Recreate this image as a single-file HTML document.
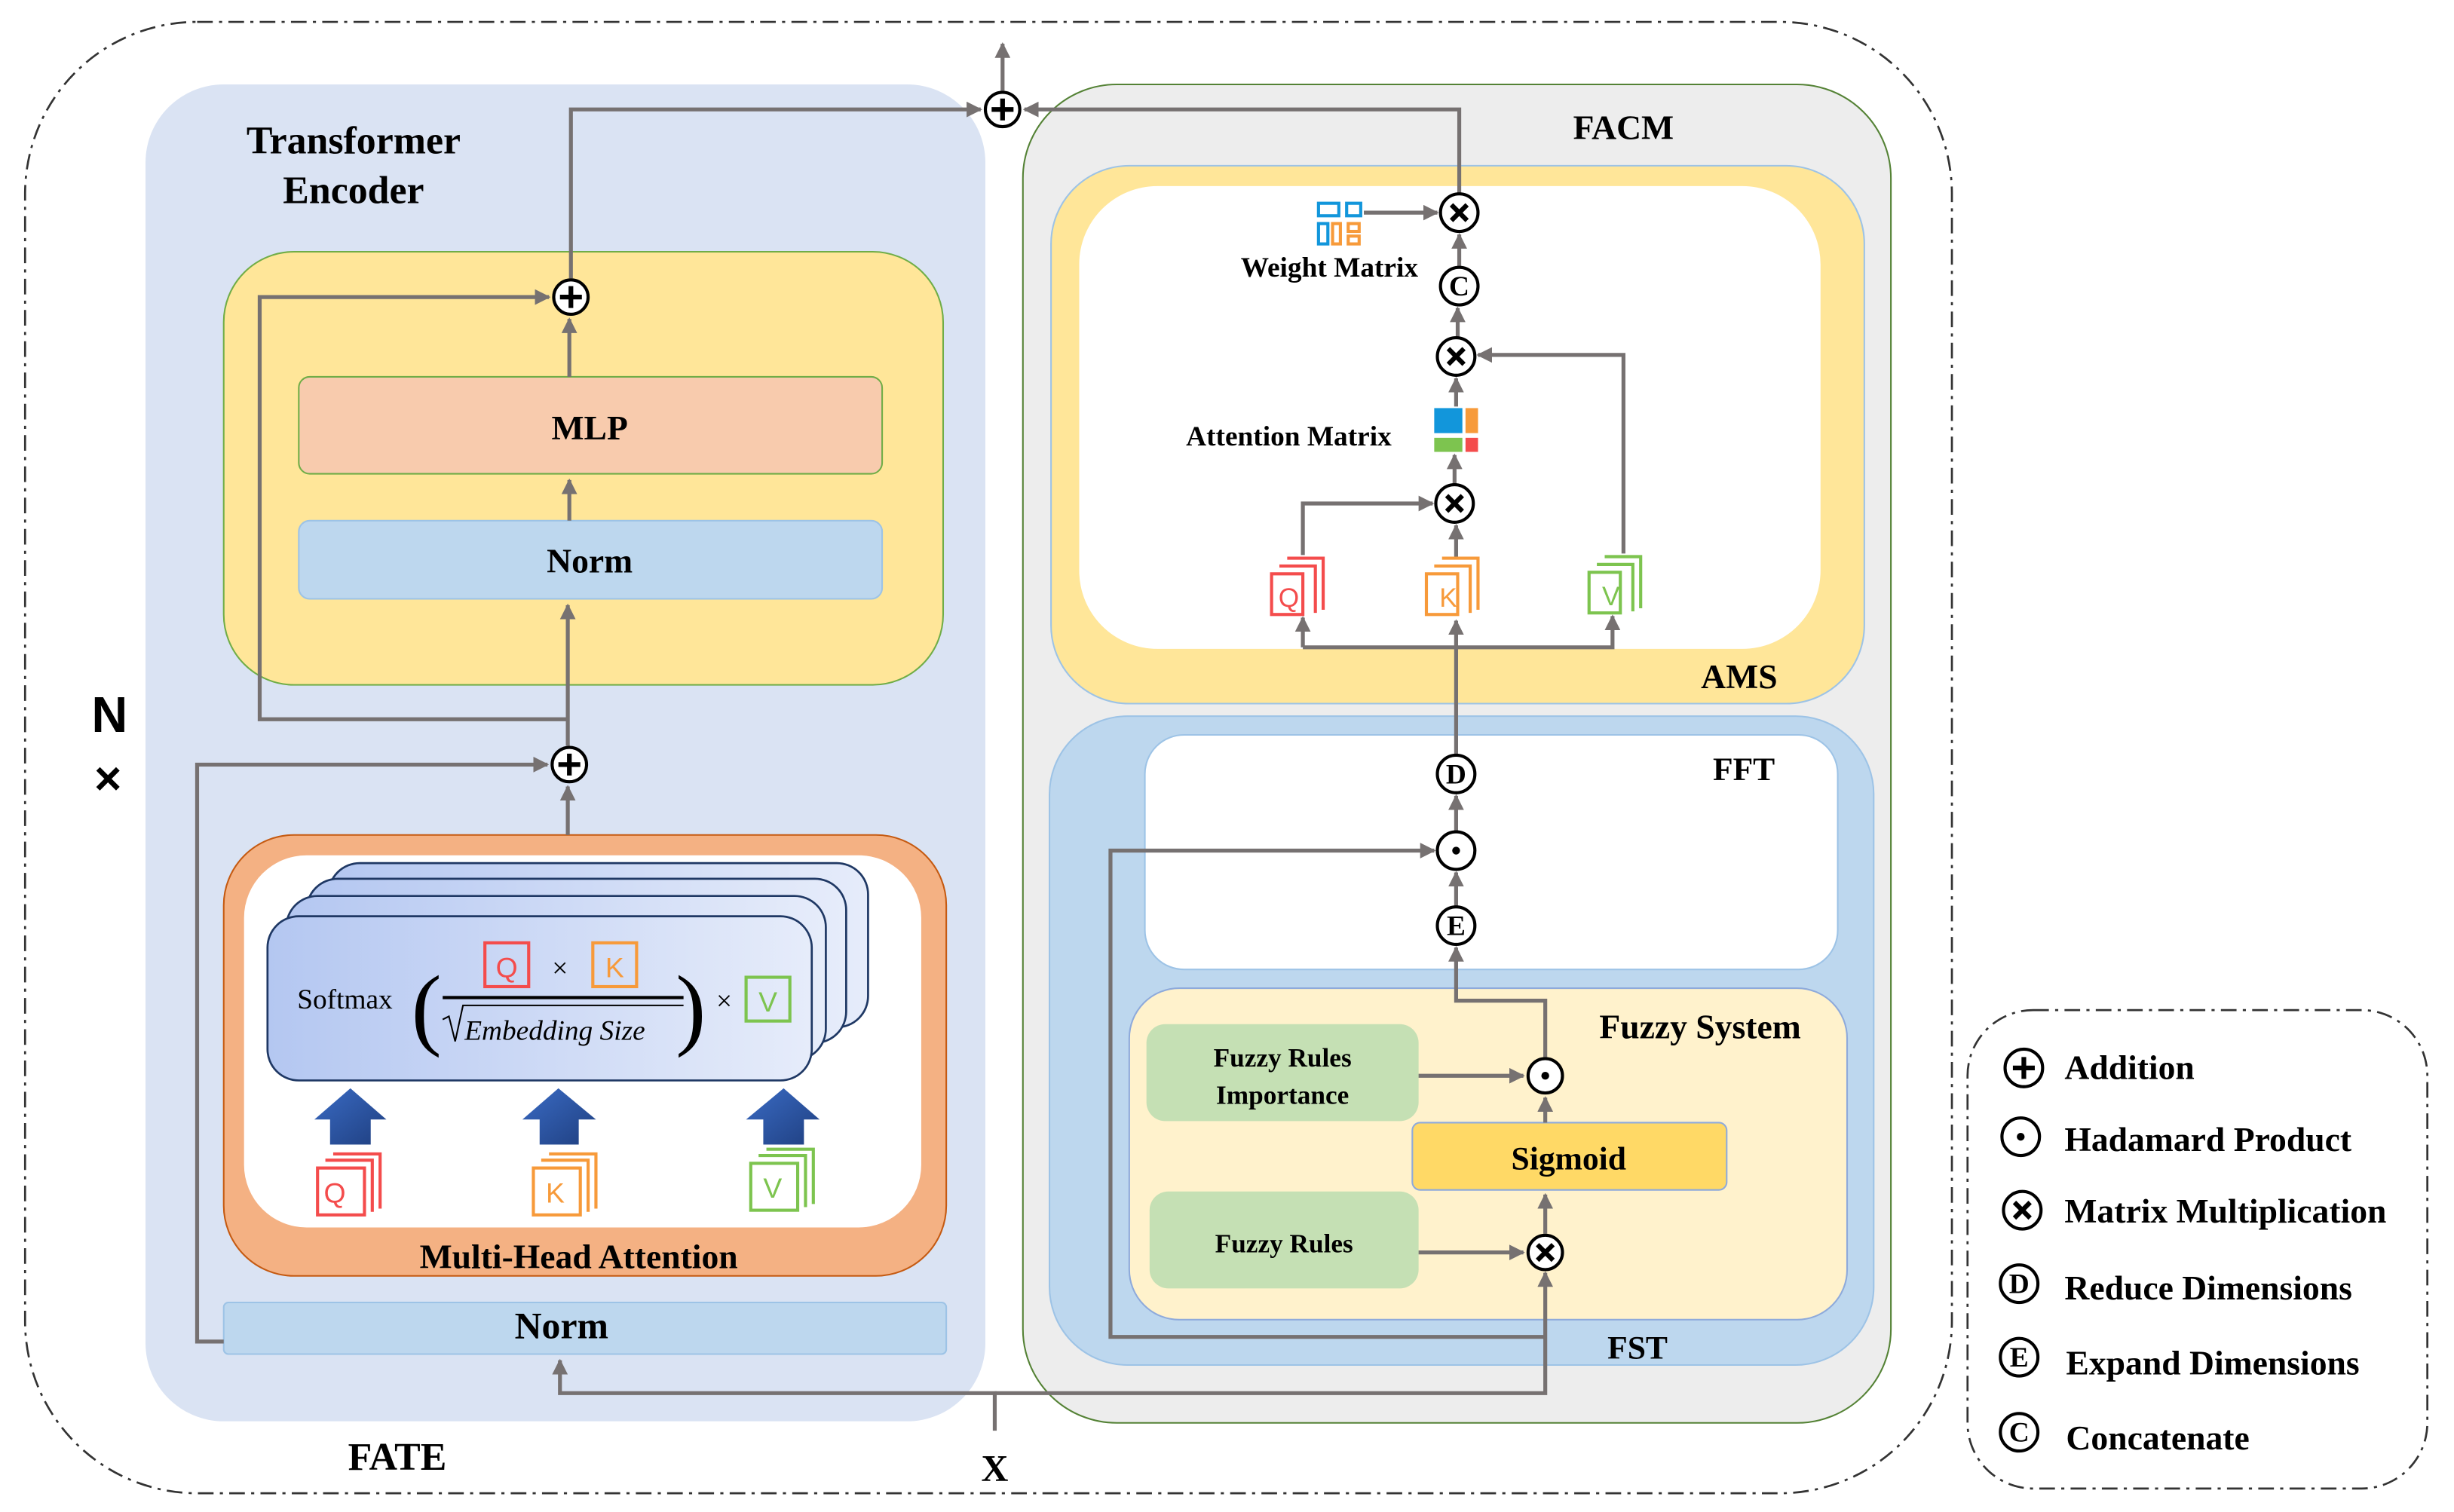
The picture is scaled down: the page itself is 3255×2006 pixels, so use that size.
<!DOCTYPE html>
<html><head><meta charset="utf-8"><style>
html,body{margin:0;padding:0;background:#fff}
svg{display:block}
text{font-family:"Liberation Serif",serif;font-weight:bold;fill:#000}
</style></head><body>
<svg width="3255" height="2006" viewBox="0 0 1569 967" xmlns="http://www.w3.org/2000/svg">
<defs>
<marker id="a" viewBox="0 0 10 10" refX="9" refY="5" markerWidth="4" markerHeight="4" orient="auto" markerUnits="strokeWidth"><path d="M0,0L10,5L0,10z" fill="#767171"/></marker>
<linearGradient id="card" x1="0" x2="1"><stop offset="0" stop-color="#b4c7f1"/><stop offset="1" stop-color="#e6ecfa"/></linearGradient>
<linearGradient id="barr" x1="0" x2="1" y1="0" y2="1"><stop offset="0" stop-color="#3a6bc4"/><stop offset="1" stop-color="#1f3f80"/></linearGradient>
</defs>
<rect x="16" y="14" width="1232" height="941" rx="110" fill="none" stroke="#333" stroke-width="1.3" stroke-dasharray="10,4,2,4"/>
<rect x="1258" y="646" width="294" height="306" rx="42" fill="none" stroke="#333" stroke-width="1.3" stroke-dasharray="10,4,2,4"/>

<rect x="93" y="54" width="537" height="855" rx="50" fill="#dae3f3"/>
<text x="226" y="98" font-size="25" text-anchor="middle">Transformer</text>
<text x="226" y="130" font-size="25" text-anchor="middle">Encoder</text>
<rect x="143" y="161" width="460" height="277" rx="45" fill="#ffe699" stroke="#70ad47" stroke-width="1"/>
<rect x="191" y="241" width="373" height="62" rx="7" fill="#f8cbad" stroke="#70ad47" stroke-width="1"/>
<text x="377" y="281" font-size="22" text-anchor="middle">MLP</text>
<rect x="191" y="333" width="373" height="50" rx="7" fill="#bdd7ee" stroke="#9dc3e6" stroke-width="1"/>
<text x="377" y="366" font-size="22" text-anchor="middle">Norm</text>

<rect x="143" y="534" width="462" height="282" rx="45" fill="#f4b183" stroke="#c55a11" stroke-width="1"/>
<rect x="156" y="547" width="433" height="238" rx="40" fill="#fff"/>
<text x="370" y="811" font-size="22" text-anchor="middle">Multi-Head Attention</text>
<g stroke="#1f3864" stroke-width="1.3">
<rect x="210" y="552" width="345" height="105" rx="20" fill="url(#card)"/>
<rect x="196" y="562" width="345" height="105" rx="20" fill="url(#card)"/>
<rect x="183" y="573" width="345" height="105" rx="20" fill="url(#card)"/>
<rect x="171" y="586" width="348" height="105" rx="20" fill="url(#card)"/>
</g>
<text x="190" y="645" font-size="18" style="font-weight:normal">Softmax</text>
<text x="263" y="664" font-size="58" style="font-weight:normal">(</text>
<text x="432" y="664" font-size="58" style="font-weight:normal">)</text>
<rect x="310" y="603" width="28" height="28" fill="none" stroke="#f44c4c" stroke-width="2"/>
<text x="324" y="625" font-size="18" text-anchor="middle" style="font-family:'Liberation Sans',sans-serif;font-weight:normal;fill:#f44c4c">Q</text>
<text x="358" y="625" font-size="18" text-anchor="middle" style="font-weight:normal">×</text>
<rect x="379" y="603" width="28" height="28" fill="none" stroke="#f79a3a" stroke-width="2"/>
<text x="393" y="625" font-size="18" text-anchor="middle" style="font-family:'Liberation Sans',sans-serif;font-weight:normal;fill:#f79a3a">K</text>
<line x1="283" y1="638" x2="437" y2="638" stroke="#000" stroke-width="2"/>
<path d="M283,652 L287,650 L291,666 L296,643 L437,643" fill="none" stroke="#000" stroke-width="1"/>
<text x="297" y="665" font-size="18" style="font-weight:normal;font-style:italic">Embedding Size</text>
<text x="463" y="646" font-size="18" text-anchor="middle" style="font-weight:normal">×</text>
<rect x="477" y="625" width="28" height="28" fill="none" stroke="#7dc44f" stroke-width="2"/>
<text x="491" y="647" font-size="18" text-anchor="middle" style="font-family:'Liberation Sans',sans-serif;font-weight:normal;fill:#7dc44f">V</text>
<g fill="url(#barr)">
<path d="M224,696 L247,716 L237,716 L237,732 L211,732 L211,716 L201,716z"/>
<path d="M357,696 L381,716 L370,716 L370,732 L345,732 L345,716 L334,716z"/>
<path d="M501,696 L524,716 L514,716 L514,732 L488,732 L488,716 L477,716z"/>
</g>
<g fill="none" stroke-width="2">
<g stroke="#f44c4c"><path d="M213,738h30v35"/><path d="M208,742h30v33"/><rect x="203" y="747" width="30" height="30" fill="#fff"/></g>
<g stroke="#f79a3a"><path d="M351,738h30v35"/><path d="M346,742h30v33"/><rect x="341" y="747" width="30" height="30" fill="#fff"/></g>
<g stroke="#7dc44f"><path d="M490,735h30v35"/><path d="M485,739h30v33"/><rect x="480" y="744" width="30" height="30" fill="#fff"/></g>
</g>
<text x="214" y="769" font-size="18" text-anchor="middle" style="font-family:'Liberation Sans',sans-serif;font-weight:normal;fill:#f44c4c">Q</text>
<text x="355" y="769" font-size="18" text-anchor="middle" style="font-family:'Liberation Sans',sans-serif;font-weight:normal;fill:#f79a3a">K</text>
<text x="494" y="766" font-size="18" text-anchor="middle" style="font-family:'Liberation Sans',sans-serif;font-weight:normal;fill:#7dc44f">V</text>

<rect x="143" y="833" width="462" height="33" rx="3" fill="#bdd7ee" stroke="#9dc3e6" stroke-width="1"/>
<text x="359" y="856" font-size="24" text-anchor="middle">Norm</text>
<text x="254" y="940" font-size="25" text-anchor="middle">FATE</text>
<text x="70" y="468" font-size="32" text-anchor="middle" style="font-family:'Liberation Sans',sans-serif">N</text>
<text x="69" y="508" font-size="30" text-anchor="middle" style="font-family:'Liberation Sans',sans-serif">×</text>

<rect x="654" y="54" width="555" height="856" rx="60" fill="#ededed" stroke="#548235" stroke-width="1"/>
<text x="1038" y="89" font-size="22" text-anchor="middle">FACM</text>
<rect x="672" y="106" width="520" height="344" rx="50" fill="#ffe699" stroke="#9dc3e6" stroke-width="1"/>
<rect x="690" y="119" width="474" height="296" rx="50" fill="#fff"/>
<text x="1112" y="440" font-size="22" text-anchor="middle">AMS</text>
<rect x="671" y="458" width="527" height="415" rx="50" fill="#bdd7ee" stroke="#9dc3e6" stroke-width="1"/>
<rect x="732" y="470" width="443" height="150" rx="25" fill="#fff" stroke="#9dc3e6" stroke-width="1"/>
<text x="1115" y="499" font-size="21" text-anchor="middle">FFT</text>
<rect x="722" y="632" width="459" height="212" rx="32" fill="#fff2cc" stroke="#8eaadb" stroke-width="1"/>
<text x="1087" y="664" font-size="22" text-anchor="middle">Fuzzy System</text>
<text x="1047" y="869" font-size="21" text-anchor="middle">FST</text>
<rect x="733" y="655" width="174" height="62" rx="12" fill="#c5e0b4"/>
<text x="820" y="682" font-size="17" text-anchor="middle">Fuzzy Rules</text>
<text x="820" y="706" font-size="17" text-anchor="middle">Importance</text>
<rect x="735" y="762" width="172" height="62" rx="12" fill="#c5e0b4"/>
<text x="821" y="801" font-size="17" text-anchor="middle">Fuzzy Rules</text>
<rect x="903" y="718" width="201" height="43" rx="5" fill="#ffd966" stroke="#8eaadb" stroke-width="1"/>
<text x="1003" y="748" font-size="21" text-anchor="middle">Sigmoid</text>

<g fill="none" stroke-width="2">
<rect x="843" y="130" width="13" height="8" stroke="#1296db"/><rect x="861" y="130" width="9" height="8" stroke="#1296db"/>
<rect x="843" y="143" width="6" height="13" stroke="#1296db"/><rect x="852" y="143" width="5" height="13" stroke="#f79a3a"/>
<rect x="862" y="143" width="7" height="5" stroke="#f79a3a"/><rect x="862" y="151" width="7" height="5" stroke="#f79a3a"/>
</g>
<text x="850" y="177" font-size="18" text-anchor="middle">Weight Matrix</text>
<rect x="917" y="261" width="18" height="16" fill="#1296db"/><rect x="937" y="261" width="8" height="16" fill="#f79a3a"/>
<rect x="917" y="280" width="18" height="9" fill="#7dc44f"/><rect x="937" y="280" width="8" height="9" fill="#f44c4c"/>
<text x="824" y="285" font-size="18" text-anchor="middle">Attention Matrix</text>
<g fill="none" stroke-width="2">
<g stroke="#f44c4c"><path d="M823,357h23v33"/><path d="M818,362h23v30"/><rect x="813" y="367" width="20" height="26" fill="#fff"/></g>
<g stroke="#f79a3a"><path d="M922,357h23v33"/><path d="M917,362h23v30"/><rect x="912" y="367" width="20" height="26" fill="#fff"/></g>
<g stroke="#7dc44f"><path d="M1026,356h23v33"/><path d="M1021,361h23v30"/><rect x="1016" y="366" width="20" height="26" fill="#fff"/></g>
</g>
<text x="824" y="388" font-size="17" text-anchor="middle" style="font-family:'Liberation Sans',sans-serif;font-weight:normal;fill:#f44c4c">Q</text>
<text x="926" y="388" font-size="17" text-anchor="middle" style="font-family:'Liberation Sans',sans-serif;font-weight:normal;fill:#f79a3a">K</text>
<text x="1030" y="387" font-size="17" text-anchor="middle" style="font-family:'Liberation Sans',sans-serif;font-weight:normal;fill:#7dc44f">V</text>

<g fill="none" stroke="#767171" stroke-width="2.5">
<path d="M636,915V891H358V870" marker-end="url(#a)"/>
<path d="M636,891H988V814" marker-end="url(#a)"/>
<path d="M988,855H710V544H917" marker-end="url(#a)"/>
<path d="M143,858H126V489H350" marker-end="url(#a)"/>
<path d="M363,534V503" marker-end="url(#a)"/>
<path d="M363,477V387" marker-end="url(#a)"/>
<path d="M364,333V307" marker-end="url(#a)"/>
<path d="M364,241V204" marker-end="url(#a)"/>
<path d="M363,460H166V190H351" marker-end="url(#a)"/>
<path d="M365,178V70H627" marker-end="url(#a)"/>
<path d="M641,58V28" marker-end="url(#a)"/>
<path d="M933,124V70H655" marker-end="url(#a)"/>
<path d="M872,136H919" marker-end="url(#a)"/>
<path d="M933,171V150" marker-end="url(#a)"/>
<path d="M932,216V197" marker-end="url(#a)"/>
<path d="M931,260V242" marker-end="url(#a)"/>
<path d="M930,310V291" marker-end="url(#a)"/>
<path d="M833,355V322H916" marker-end="url(#a)"/>
<path d="M931,356V336" marker-end="url(#a)"/>
<path d="M1038,354V227H945" marker-end="url(#a)"/>
<path d="M931,483V397" marker-end="url(#a)"/>
<path d="M833,414H1031V394" marker-end="url(#a)"/>
<path d="M833,414V395" marker-end="url(#a)"/>
<path d="M931,532V509" marker-end="url(#a)"/>
<path d="M931,580V558" marker-end="url(#a)"/>
<path d="M988,676V640H931V606" marker-end="url(#a)"/>
<path d="M907,688H974" marker-end="url(#a)"/>
<path d="M988,718V702" marker-end="url(#a)"/>
<path d="M988,789V764" marker-end="url(#a)"/>
<path d="M907,801H974" marker-end="url(#a)"/>
</g>
<text x="636" y="947" font-size="24" text-anchor="middle">X</text>

<g stroke="#000" stroke-width="2" fill="#fff">
<circle cx="365" cy="190" r="11"/><circle cx="364" cy="489" r="11"/><circle cx="641" cy="70" r="11"/>
<circle cx="933" cy="136" r="12"/><circle cx="933" cy="183" r="12"/><circle cx="931" cy="228" r="12"/><circle cx="930" cy="322" r="12"/>
<circle cx="931" cy="495" r="12"/><circle cx="931" cy="544" r="12"/><circle cx="931" cy="592" r="12"/>
<circle cx="988" cy="688" r="11"/><circle cx="988" cy="801" r="11"/>
<circle cx="1294" cy="683" r="12"/><circle cx="1292" cy="727" r="12"/><circle cx="1293" cy="774" r="12"/>
<circle cx="1291" cy="821" r="12"/><circle cx="1291" cy="868" r="12"/><circle cx="1291" cy="916" r="12"/>
</g>
<g stroke="#000" stroke-width="3" fill="none">
<path d="M358,190h14M365,183v14M357,489h14M364,482v14M634,70h14M641,63v14M1287,683h14M1294,676v14"/>
<path d="M928,131l10,10M938,131l-10,10M926,223l10,10M936,223l-10,10M925,317l10,10M935,317l-10,10M983,796l10,10M993,796l-10,10M1288,769l10,10M1298,769l-10,10"/>
</g>
<g fill="#000"><circle cx="931" cy="544" r="2.5"/><circle cx="988" cy="688" r="2.5"/><circle cx="1292" cy="727" r="2.5"/></g>
<g font-size="18" text-anchor="middle">
<text x="933" y="189">C</text><text x="931" y="501">D</text><text x="931" y="598">E</text>
<text x="1291" y="827">D</text><text x="1291" y="874">E</text><text x="1291" y="922">C</text>
</g>
<g font-size="22">
<text x="1320" y="690">Addition</text>
<text x="1320" y="736">Hadamard Product</text>
<text x="1320" y="782">Matrix Multiplication</text>
<text x="1320" y="831">Reduce Dimensions</text>
<text x="1321" y="879">Expand Dimensions</text>
<text x="1321" y="927">Concatenate</text>
</g>
</svg>
</body></html>
